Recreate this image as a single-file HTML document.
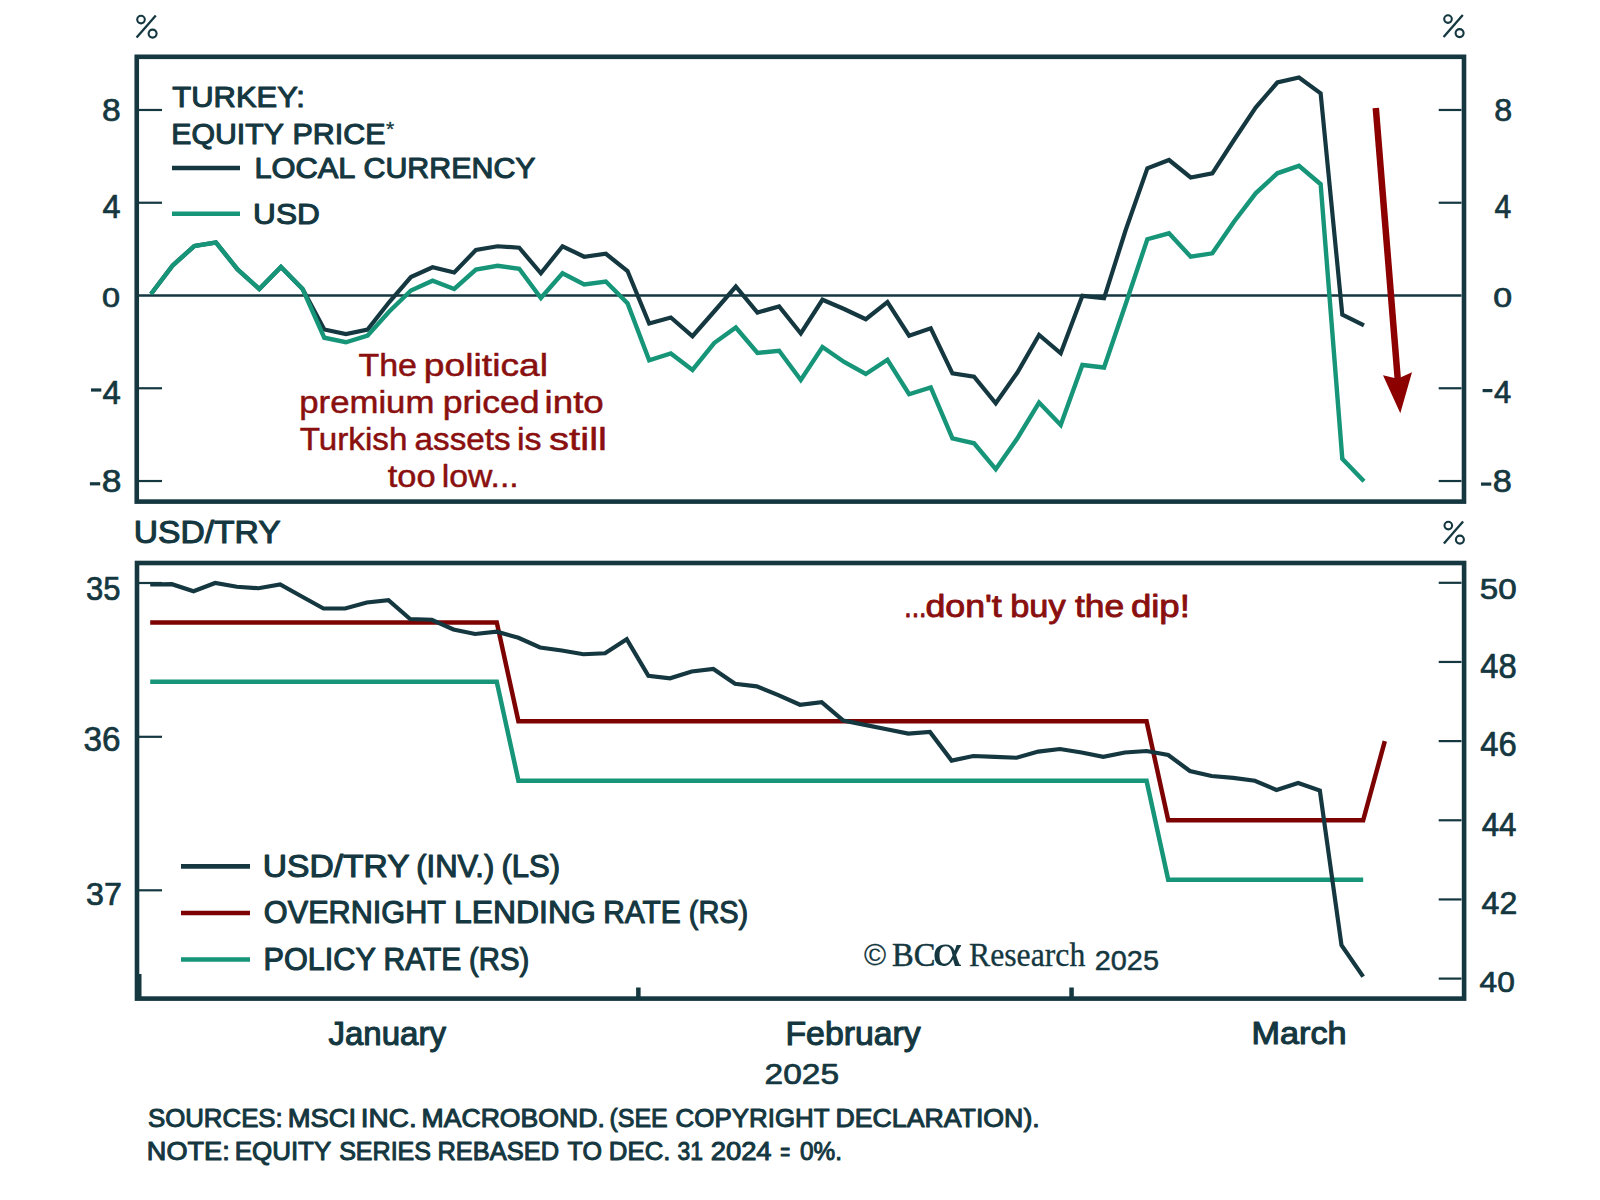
<!DOCTYPE html>
<html><head><meta charset="utf-8"><style>
html,body{margin:0;padding:0;background:#ffffff;width:1600px;height:1200px;overflow:hidden}
svg{display:block}

</style></head><body>
<svg width="1600" height="1200" viewBox="0 0 1600 1200">
<rect x="136.75" y="56.8" width="1327.25" height="444.8" fill="none" stroke="#143740" stroke-width="4.6"/>
<line x1="139" y1="109.98" x2="162" y2="109.98" stroke="#143740" stroke-width="2.2"/>
<line x1="1438.7" y1="109.98" x2="1461.5" y2="109.98" stroke="#143740" stroke-width="2.2"/>
<line x1="139" y1="202.74" x2="162" y2="202.74" stroke="#143740" stroke-width="2.2"/>
<line x1="1438.7" y1="202.74" x2="1461.5" y2="202.74" stroke="#143740" stroke-width="2.2"/>
<line x1="139" y1="388.26" x2="162" y2="388.26" stroke="#143740" stroke-width="2.2"/>
<line x1="1438.7" y1="388.26" x2="1461.5" y2="388.26" stroke="#143740" stroke-width="2.2"/>
<line x1="139" y1="481.02" x2="162" y2="481.02" stroke="#143740" stroke-width="2.2"/>
<line x1="1438.7" y1="481.02" x2="1461.5" y2="481.02" stroke="#143740" stroke-width="2.2"/>
<line x1="139" y1="295.5" x2="1461.5" y2="295.5" stroke="#143740" stroke-width="2.6"/>
<polyline points="151.00,294.00 172.66,265.50 194.32,246.00 215.98,242.50 237.64,269.50 259.30,289.00 280.96,267.00 302.62,289.00 324.28,329.50 345.94,334.00 367.60,329.50 389.26,302.00 410.92,277.00 432.58,267.25 454.24,272.50 475.90,250.00 497.56,246.25 519.22,247.75 540.88,273.25 562.54,246.25 584.20,256.75 605.86,253.75 627.52,271.00 649.18,323.50 670.84,317.50 692.50,336.25 714.16,311.50 735.82,286.50 757.48,312.50 779.14,306.50 800.80,333.50 822.46,299.75 844.12,309.00 865.78,319.25 887.44,302.00 909.10,335.75 930.76,328.25 952.42,373.30 974.08,376.70 995.74,403.30 1017.40,372.50 1039.06,335.00 1060.72,353.30 1082.38,295.80 1104.04,298.30 1125.70,230.00 1147.36,168.30 1169.02,160.00 1190.68,177.50 1212.34,173.30 1234.00,140.00 1255.66,107.50 1277.32,82.50 1298.98,77.50 1320.64,93.30 1342.30,314.70 1363.96,325.30" fill="none" stroke="#143740" stroke-width="4.2" stroke-linejoin="miter" stroke-miterlimit="3"/>
<polyline points="151.00,294.00 172.66,265.50 194.32,246.00 215.98,242.50 237.64,269.50 259.30,289.00 280.96,267.00 302.62,289.00 324.28,337.75 345.94,342.25 367.60,335.50 389.26,311.50 410.92,290.50 432.58,280.75 454.24,289.00 475.90,269.50 497.56,265.75 519.22,268.75 540.88,298.00 562.54,273.25 584.20,284.50 605.86,281.50 627.52,303.25 649.18,360.25 670.84,353.50 692.50,370.00 714.16,343.00 735.82,327.50 757.48,353.00 779.14,350.75 800.80,380.00 822.46,347.00 844.12,362.00 865.78,374.00 887.44,359.75 909.10,394.25 930.76,387.50 952.42,438.30 974.08,443.30 995.74,469.20 1017.40,438.30 1039.06,402.50 1060.72,425.00 1082.38,365.00 1104.04,367.50 1125.70,304.00 1147.36,239.20 1169.02,233.30 1190.68,256.70 1212.34,253.30 1234.00,221.70 1255.66,193.30 1277.32,173.30 1298.98,165.80 1320.64,184.20 1342.30,458.70 1363.96,481.30" fill="none" stroke="#169579" stroke-width="4.4" stroke-linejoin="miter" stroke-miterlimit="3"/>
<line x1="1375.8" y1="108" x2="1397.9" y2="381" stroke="#8c0000" stroke-width="6.5"/>
<path d="M1383,375.3 L1397.7,378.7 L1412,372.3 L1400.3,413.3 Z" fill="#8c0000"/>
<rect x="137" y="563" width="1327.1" height="435.6" fill="none" stroke="#143740" stroke-width="4.6"/>
<line x1="139" y1="583.00" x2="162" y2="583.00" stroke="#143740" stroke-width="2.2"/>
<line x1="139" y1="736.80" x2="162" y2="736.80" stroke="#143740" stroke-width="2.2"/>
<line x1="139" y1="890.30" x2="162" y2="890.30" stroke="#143740" stroke-width="2.2"/>
<line x1="1438.7" y1="582.80" x2="1461.5" y2="582.80" stroke="#143740" stroke-width="2.2"/>
<line x1="1438.7" y1="661.96" x2="1461.5" y2="661.96" stroke="#143740" stroke-width="2.2"/>
<line x1="1438.7" y1="741.12" x2="1461.5" y2="741.12" stroke="#143740" stroke-width="2.2"/>
<line x1="1438.7" y1="820.28" x2="1461.5" y2="820.28" stroke="#143740" stroke-width="2.2"/>
<line x1="1438.7" y1="899.44" x2="1461.5" y2="899.44" stroke="#143740" stroke-width="2.2"/>
<line x1="1438.7" y1="978.60" x2="1461.5" y2="978.60" stroke="#143740" stroke-width="2.2"/>
<rect x="137" y="974" width="4.5" height="23" fill="#143740"/>
<rect x="636.1" y="987.5" width="4.5" height="10" fill="#143740"/>
<rect x="1069.3" y="987.5" width="4.5" height="10" fill="#143740"/>
<polyline points="150.20,622.38 171.86,622.38 193.52,622.38 215.18,622.38 236.84,622.38 258.50,622.38 280.16,622.38 301.82,622.38 323.48,622.38 345.14,622.38 366.80,622.38 388.46,622.38 410.12,622.38 431.78,622.38 453.44,622.38 475.10,622.38 496.76,622.38 518.42,721.33 540.08,721.33 561.74,721.33 583.40,721.33 605.06,721.33 626.72,721.33 648.38,721.33 670.04,721.33 691.70,721.33 713.36,721.33 735.02,721.33 756.68,721.33 778.34,721.33 800.00,721.33 821.66,721.33 843.32,721.33 864.98,721.33 886.64,721.33 908.30,721.33 929.96,721.33 951.62,721.33 973.28,721.33 994.94,721.33 1016.60,721.33 1038.26,721.33 1059.92,721.33 1081.58,721.33 1103.24,721.33 1124.90,721.33 1146.56,721.33 1168.22,820.28 1189.88,820.28 1211.54,820.28 1233.20,820.28 1254.86,820.28 1276.52,820.28 1298.18,820.28 1319.84,820.28 1341.50,820.28 1363.16,820.28 1384.82,741.12" fill="none" stroke="#7d0303" stroke-width="4.5" stroke-linejoin="miter" stroke-miterlimit="3"/>
<polyline points="150.20,681.75 171.86,681.75 193.52,681.75 215.18,681.75 236.84,681.75 258.50,681.75 280.16,681.75 301.82,681.75 323.48,681.75 345.14,681.75 366.80,681.75 388.46,681.75 410.12,681.75 431.78,681.75 453.44,681.75 475.10,681.75 496.76,681.75 518.42,780.70 540.08,780.70 561.74,780.70 583.40,780.70 605.06,780.70 626.72,780.70 648.38,780.70 670.04,780.70 691.70,780.70 713.36,780.70 735.02,780.70 756.68,780.70 778.34,780.70 800.00,780.70 821.66,780.70 843.32,780.70 864.98,780.70 886.64,780.70 908.30,780.70 929.96,780.70 951.62,780.70 973.28,780.70 994.94,780.70 1016.60,780.70 1038.26,780.70 1059.92,780.70 1081.58,780.70 1103.24,780.70 1124.90,780.70 1146.56,780.70 1168.22,879.65 1189.88,879.65 1211.54,879.65 1233.20,879.65 1254.86,879.65 1276.52,879.65 1298.18,879.65 1319.84,879.65 1341.50,879.65 1363.16,879.65" fill="none" stroke="#169579" stroke-width="4.5" stroke-linejoin="miter" stroke-miterlimit="3"/>
<polyline points="150.20,584.50 171.86,584.20 193.52,591.25 215.18,583.00 236.84,586.75 258.50,588.25 280.16,584.50 301.82,596.50 323.48,608.50 345.14,608.50 366.80,602.50 388.46,600.25 410.12,619.00 431.78,619.75 453.44,629.50 475.10,634.00 496.76,631.75 518.42,637.75 540.08,647.50 561.74,650.50 583.40,654.25 605.06,653.30 626.72,639.20 648.38,675.80 670.04,678.30 691.70,671.50 713.36,668.90 735.02,683.75 756.68,686.40 778.34,695.10 800.00,704.75 821.66,702.10 843.32,720.50 864.98,724.90 886.64,729.25 908.30,733.60 929.96,731.90 951.62,760.60 973.28,756.00 994.94,756.90 1016.60,757.75 1038.26,751.60 1059.92,749.00 1081.58,752.50 1103.24,756.90 1124.90,752.50 1146.56,751.00 1168.22,755.00 1189.88,771.00 1211.54,776.00 1233.20,777.90 1254.86,780.70 1276.52,790.00 1298.18,783.00 1319.84,790.50 1341.50,945.20 1363.16,976.60" fill="none" stroke="#143740" stroke-width="4.2" stroke-linejoin="miter" stroke-miterlimit="3"/>
<line x1="172" y1="168" x2="240" y2="168" stroke="#143740" stroke-width="4.6"/>
<line x1="172" y1="213.75" x2="240" y2="213.75" stroke="#169579" stroke-width="4.6"/>
<line x1="181" y1="866.4" x2="250" y2="866.4" stroke="#143740" stroke-width="4.6"/>
<line x1="181" y1="913" x2="250" y2="913" stroke="#7d0303" stroke-width="4.6"/>
<line x1="181" y1="959.5" x2="250" y2="959.5" stroke="#169579" stroke-width="4.6"/>
<g fill="none" stroke="#143740" stroke-width="2.1"><circle cx="141.00" cy="19.60" r="3.8"/><circle cx="152.60" cy="33.60" r="4.0"/><line x1="136.60" y1="37.60" x2="155.80" y2="15.40" stroke-width="2.3"/></g>
<g fill="none" stroke="#143740" stroke-width="2.1"><circle cx="1448.00" cy="19.10" r="3.8"/><circle cx="1459.60" cy="33.10" r="4.0"/><line x1="1443.60" y1="37.10" x2="1462.80" y2="14.90" stroke-width="2.3"/></g>
<text x="102.09" y="120.84" font-family="Liberation Sans" font-weight="normal" font-size="32.20" textLength="18.73" lengthAdjust="spacingAndGlyphs" fill="#143740" stroke="#143740" stroke-width="0.70" stroke-linejoin="round">8</text>
<text x="102.60" y="218.25" font-family="Liberation Sans" font-weight="normal" font-size="33.43" textLength="18.10" lengthAdjust="spacingAndGlyphs" fill="#143740" stroke="#143740" stroke-width="0.70" stroke-linejoin="round">4</text>
<text x="102.08" y="307.08" font-family="Liberation Sans" font-weight="normal" font-size="27.97" textLength="18.03" lengthAdjust="spacingAndGlyphs" fill="#143740" stroke="#143740" stroke-width="0.70" stroke-linejoin="round">0</text>
<rect x="91.00" y="388.40" width="10.30" height="3.20" fill="#143740"/>
<text x="102.49" y="403.85" font-family="Liberation Sans" font-weight="normal" font-size="32.99" textLength="18.32" lengthAdjust="spacingAndGlyphs" fill="#143740" stroke="#143740" stroke-width="0.70" stroke-linejoin="round">4</text>
<rect x="89.90" y="482.20" width="10.30" height="3.20" fill="#143740"/>
<text x="101.71" y="492.45" font-family="Liberation Sans" font-weight="normal" font-size="31.21" textLength="19.67" lengthAdjust="spacingAndGlyphs" fill="#143740" stroke="#143740" stroke-width="0.70" stroke-linejoin="round">8</text>
<text x="1494.15" y="120.64" font-family="Liberation Sans" font-weight="normal" font-size="31.92" textLength="17.90" lengthAdjust="spacingAndGlyphs" fill="#143740" stroke="#143740" stroke-width="0.70" stroke-linejoin="round">8</text>
<text x="1494.56" y="218.25" font-family="Liberation Sans" font-weight="normal" font-size="33.14" textLength="16.78" lengthAdjust="spacingAndGlyphs" fill="#143740" stroke="#143740" stroke-width="0.70" stroke-linejoin="round">4</text>
<text x="1493.33" y="306.69" font-family="Liberation Sans" font-weight="normal" font-size="26.98" textLength="18.85" lengthAdjust="spacingAndGlyphs" fill="#143740" stroke="#143740" stroke-width="0.70" stroke-linejoin="round">0</text>
<rect x="1482.60" y="389.00" width="9.80" height="3.20" fill="#143740"/>
<text x="1494.14" y="402.75" font-family="Liberation Sans" font-weight="normal" font-size="30.52" textLength="17.22" lengthAdjust="spacingAndGlyphs" fill="#143740" stroke="#143740" stroke-width="0.70" stroke-linejoin="round">4</text>
<rect x="1481.00" y="482.50" width="10.30" height="3.20" fill="#143740"/>
<text x="1492.86" y="491.95" font-family="Liberation Sans" font-weight="normal" font-size="30.51" textLength="19.08" lengthAdjust="spacingAndGlyphs" fill="#143740" stroke="#143740" stroke-width="0.70" stroke-linejoin="round">8</text>
<text x="172.36" y="106.95" font-family="Liberation Sans" font-weight="normal" font-size="29.29" textLength="132.37" lengthAdjust="spacingAndGlyphs" fill="#143740" stroke="#143740" stroke-width="1.10" stroke-linejoin="round">TURKEY:</text>
<text x="171.37" y="144.45" font-family="Liberation Sans" font-weight="normal" font-size="29.29" textLength="112.54" lengthAdjust="spacingAndGlyphs" fill="#143740" stroke="#143740" stroke-width="1.10" stroke-linejoin="round">EQUITY</text>
<text x="292.56" y="144.45" font-family="Liberation Sans" font-weight="normal" font-size="29.29" textLength="92.90" lengthAdjust="spacingAndGlyphs" fill="#143740" stroke="#143740" stroke-width="1.10" stroke-linejoin="round">PRICE</text>
<text x="385.91" y="136.06" font-family="Liberation Sans" font-weight="normal" font-size="20.22" textLength="8.27" lengthAdjust="spacingAndGlyphs" fill="#143740" stroke="#143740" stroke-width="0.30" stroke-linejoin="round">*</text>
<text x="254.42" y="178.20" font-family="Liberation Sans" font-weight="normal" font-size="29.29" textLength="101.05" lengthAdjust="spacingAndGlyphs" fill="#143740" stroke="#143740" stroke-width="1.10" stroke-linejoin="round">LOCAL</text>
<text x="363.51" y="178.20" font-family="Liberation Sans" font-weight="normal" font-size="29.29" textLength="172.11" lengthAdjust="spacingAndGlyphs" fill="#143740" stroke="#143740" stroke-width="1.10" stroke-linejoin="round">CURRENCY</text>
<text x="253.12" y="224.45" font-family="Liberation Sans" font-weight="normal" font-size="29.29" textLength="66.59" lengthAdjust="spacingAndGlyphs" fill="#143740" stroke="#143740" stroke-width="1.10" stroke-linejoin="round">USD</text>
<text x="358.49" y="375.85" font-family="Liberation Sans" font-weight="normal" font-size="31.00" textLength="58.52" lengthAdjust="spacingAndGlyphs" fill="#8a0f0f" stroke="#8a0f0f" stroke-width="0.50" stroke-linejoin="round">The</text>
<text x="423.85" y="375.85" font-family="Liberation Sans" font-weight="normal" font-size="31.00" textLength="124.19" lengthAdjust="spacingAndGlyphs" fill="#8a0f0f" stroke="#8a0f0f" stroke-width="0.50" stroke-linejoin="round">political</text>
<text x="299.31" y="413.05" font-family="Liberation Sans" font-weight="normal" font-size="31.00" textLength="135.03" lengthAdjust="spacingAndGlyphs" fill="#8a0f0f" stroke="#8a0f0f" stroke-width="0.50" stroke-linejoin="round">premium</text>
<text x="442.66" y="413.05" font-family="Liberation Sans" font-weight="normal" font-size="31.00" textLength="96.89" lengthAdjust="spacingAndGlyphs" fill="#8a0f0f" stroke="#8a0f0f" stroke-width="0.50" stroke-linejoin="round">priced</text>
<text x="544.59" y="413.05" font-family="Liberation Sans" font-weight="normal" font-size="31.00" textLength="59.20" lengthAdjust="spacingAndGlyphs" fill="#8a0f0f" stroke="#8a0f0f" stroke-width="0.50" stroke-linejoin="round">into</text>
<text x="299.81" y="450.25" font-family="Liberation Sans" font-weight="normal" font-size="31.00" textLength="107.57" lengthAdjust="spacingAndGlyphs" fill="#8a0f0f" stroke="#8a0f0f" stroke-width="0.50" stroke-linejoin="round">Turkish</text>
<text x="414.64" y="450.25" font-family="Liberation Sans" font-weight="normal" font-size="31.00" textLength="96.01" lengthAdjust="spacingAndGlyphs" fill="#8a0f0f" stroke="#8a0f0f" stroke-width="0.50" stroke-linejoin="round">assets</text>
<text x="516.97" y="450.25" font-family="Liberation Sans" font-weight="normal" font-size="31.00" textLength="24.61" lengthAdjust="spacingAndGlyphs" fill="#8a0f0f" stroke="#8a0f0f" stroke-width="0.50" stroke-linejoin="round">is</text>
<text x="549.03" y="450.25" font-family="Liberation Sans" font-weight="normal" font-size="31.00" textLength="58.00" lengthAdjust="spacingAndGlyphs" fill="#8a0f0f" stroke="#8a0f0f" stroke-width="0.50" stroke-linejoin="round">still</text>
<text x="387.73" y="487.45" font-family="Liberation Sans" font-weight="normal" font-size="31.00" textLength="47.87" lengthAdjust="spacingAndGlyphs" fill="#8a0f0f" stroke="#8a0f0f" stroke-width="0.50" stroke-linejoin="round">too</text>
<text x="441.73" y="487.45" font-family="Liberation Sans" font-weight="normal" font-size="31.00" textLength="76.93" lengthAdjust="spacingAndGlyphs" fill="#8a0f0f" stroke="#8a0f0f" stroke-width="0.50" stroke-linejoin="round">low...</text>
<text x="133.77" y="543.35" font-family="Liberation Sans" font-weight="normal" font-size="31.69" textLength="146.92" lengthAdjust="spacingAndGlyphs" fill="#143740" stroke="#143740" stroke-width="1.10" stroke-linejoin="round">USD/TRY</text>
<g fill="none" stroke="#143740" stroke-width="2.1"><circle cx="1448.30" cy="525.60" r="3.8"/><circle cx="1459.90" cy="539.60" r="4.0"/><line x1="1443.90" y1="543.60" x2="1463.10" y2="521.40" stroke-width="2.3"/></g>
<text x="85.97" y="599.62" font-family="Liberation Sans" font-weight="normal" font-size="33.62" textLength="34.48" lengthAdjust="spacingAndGlyphs" fill="#143740" stroke="#143740" stroke-width="0.70" stroke-linejoin="round">35</text>
<text x="83.58" y="751.31" font-family="Liberation Sans" font-weight="normal" font-size="35.31" textLength="37.03" lengthAdjust="spacingAndGlyphs" fill="#143740" stroke="#143740" stroke-width="0.70" stroke-linejoin="round">36</text>
<text x="86.12" y="905.35" font-family="Liberation Sans" font-weight="normal" font-size="31.07" textLength="35.85" lengthAdjust="spacingAndGlyphs" fill="#143740" stroke="#143740" stroke-width="0.70" stroke-linejoin="round">37</text>
<text x="1479.72" y="598.55" font-family="Liberation Sans" font-weight="normal" font-size="30.37" textLength="36.93" lengthAdjust="spacingAndGlyphs" fill="#143740" stroke="#143740" stroke-width="0.70" stroke-linejoin="round">50</text>
<text x="1480.30" y="677.81" font-family="Liberation Sans" font-weight="normal" font-size="35.31" textLength="36.48" lengthAdjust="spacingAndGlyphs" fill="#143740" stroke="#143740" stroke-width="0.70" stroke-linejoin="round">48</text>
<text x="1480.30" y="756.01" font-family="Liberation Sans" font-weight="normal" font-size="35.31" textLength="36.49" lengthAdjust="spacingAndGlyphs" fill="#143740" stroke="#143740" stroke-width="0.70" stroke-linejoin="round">46</text>
<text x="1481.63" y="835.65" font-family="Liberation Sans" font-weight="normal" font-size="32.41" textLength="34.94" lengthAdjust="spacingAndGlyphs" fill="#143740" stroke="#143740" stroke-width="0.70" stroke-linejoin="round">44</text>
<text x="1481.61" y="914.05" font-family="Liberation Sans" font-weight="normal" font-size="31.08" textLength="35.65" lengthAdjust="spacingAndGlyphs" fill="#143740" stroke="#143740" stroke-width="0.70" stroke-linejoin="round">42</text>
<text x="1479.62" y="992.36" font-family="Liberation Sans" font-weight="normal" font-size="30.08" textLength="35.27" lengthAdjust="spacingAndGlyphs" fill="#143740" stroke="#143740" stroke-width="0.70" stroke-linejoin="round">40</text>
<text x="904.21" y="616.55" font-family="Liberation Sans" font-weight="normal" font-size="31.74" textLength="22.28" lengthAdjust="spacingAndGlyphs" fill="#8a0f0f" stroke="#8a0f0f" stroke-width="0.90" stroke-linejoin="round">...</text>
<text x="925.45" y="616.55" font-family="Liberation Sans" font-weight="normal" font-size="31.74" textLength="76.36" lengthAdjust="spacingAndGlyphs" fill="#8a0f0f" stroke="#8a0f0f" stroke-width="0.90" stroke-linejoin="round">don't</text>
<text x="1010.24" y="616.55" font-family="Liberation Sans" font-weight="normal" font-size="31.74" textLength="55.38" lengthAdjust="spacingAndGlyphs" fill="#8a0f0f" stroke="#8a0f0f" stroke-width="0.90" stroke-linejoin="round">buy</text>
<text x="1074.91" y="616.55" font-family="Liberation Sans" font-weight="normal" font-size="31.74" textLength="49.21" lengthAdjust="spacingAndGlyphs" fill="#8a0f0f" stroke="#8a0f0f" stroke-width="0.90" stroke-linejoin="round">the</text>
<text x="1130.91" y="616.55" font-family="Liberation Sans" font-weight="normal" font-size="31.74" textLength="58.96" lengthAdjust="spacingAndGlyphs" fill="#8a0f0f" stroke="#8a0f0f" stroke-width="0.90" stroke-linejoin="round">dip!</text>
<text x="262.72" y="876.75" font-family="Liberation Sans" font-weight="normal" font-size="30.52" textLength="146.87" lengthAdjust="spacingAndGlyphs" fill="#143740" stroke="#143740" stroke-width="1.10" stroke-linejoin="round">USD/TRY</text>
<text x="416.19" y="876.75" font-family="Liberation Sans" font-weight="normal" font-size="30.52" textLength="78.11" lengthAdjust="spacingAndGlyphs" fill="#143740" stroke="#143740" stroke-width="1.10" stroke-linejoin="round">(INV.)</text>
<text x="501.42" y="876.75" font-family="Liberation Sans" font-weight="normal" font-size="30.52" textLength="58.65" lengthAdjust="spacingAndGlyphs" fill="#143740" stroke="#143740" stroke-width="1.10" stroke-linejoin="round">(LS)</text>
<text x="263.85" y="923.45" font-family="Liberation Sans" font-weight="normal" font-size="30.52" textLength="182.21" lengthAdjust="spacingAndGlyphs" fill="#143740" stroke="#143740" stroke-width="1.10" stroke-linejoin="round">OVERNIGHT</text>
<text x="453.93" y="923.45" font-family="Liberation Sans" font-weight="normal" font-size="30.52" textLength="141.90" lengthAdjust="spacingAndGlyphs" fill="#143740" stroke="#143740" stroke-width="1.10" stroke-linejoin="round">LENDING</text>
<text x="603.17" y="923.45" font-family="Liberation Sans" font-weight="normal" font-size="30.52" textLength="77.53" lengthAdjust="spacingAndGlyphs" fill="#143740" stroke="#143740" stroke-width="1.10" stroke-linejoin="round">RATE</text>
<text x="688.75" y="923.45" font-family="Liberation Sans" font-weight="normal" font-size="30.52" textLength="59.49" lengthAdjust="spacingAndGlyphs" fill="#143740" stroke="#143740" stroke-width="1.10" stroke-linejoin="round">(RS)</text>
<text x="263.54" y="969.85" font-family="Liberation Sans" font-weight="normal" font-size="30.52" textLength="112.34" lengthAdjust="spacingAndGlyphs" fill="#143740" stroke="#143740" stroke-width="1.10" stroke-linejoin="round">POLICY</text>
<text x="383.56" y="969.85" font-family="Liberation Sans" font-weight="normal" font-size="30.52" textLength="77.74" lengthAdjust="spacingAndGlyphs" fill="#143740" stroke="#143740" stroke-width="1.10" stroke-linejoin="round">RATE</text>
<text x="468.98" y="969.85" font-family="Liberation Sans" font-weight="normal" font-size="30.52" textLength="60.29" lengthAdjust="spacingAndGlyphs" fill="#143740" stroke="#143740" stroke-width="1.10" stroke-linejoin="round">(RS)</text>
<text x="864.05" y="965.27" font-family="Liberation Sans" font-weight="normal" font-size="28.89" textLength="22.12" lengthAdjust="spacingAndGlyphs" fill="#143740" stroke="#143740" stroke-width="0.20" stroke-linejoin="round">©</text>
<text x="892.11" y="966.25" font-family="Liberation Serif" font-weight="normal" font-size="32.68" textLength="43.43" lengthAdjust="spacingAndGlyphs" fill="#143740" stroke="#143740" stroke-width="0.50" stroke-linejoin="round">BC</text>
<text x="932.21" y="966.06" font-family="Liberation Serif" font-weight="normal" font-size="45.49" textLength="30.08" lengthAdjust="spacingAndGlyphs" fill="#143740">α</text>
<text x="969.04" y="966.35" font-family="Liberation Serif" font-weight="normal" font-size="32.99" textLength="116.23" lengthAdjust="spacingAndGlyphs" fill="#143740" stroke="#143740" stroke-width="0.30" stroke-linejoin="round">Research</text>
<text x="1094.80" y="970.48" font-family="Liberation Sans" font-weight="normal" font-size="27.54" textLength="64.16" lengthAdjust="spacingAndGlyphs" fill="#143740" stroke="#143740" stroke-width="0.50" stroke-linejoin="round">2025</text>
<text x="328.43" y="1045.05" font-family="Liberation Sans" font-weight="normal" font-size="33.29" textLength="117.58" lengthAdjust="spacingAndGlyphs" fill="#143740" stroke="#143740" stroke-width="1.10" stroke-linejoin="round">January</text>
<text x="785.48" y="1045.05" font-family="Liberation Sans" font-weight="normal" font-size="33.29" textLength="135.24" lengthAdjust="spacingAndGlyphs" fill="#143740" stroke="#143740" stroke-width="1.10" stroke-linejoin="round">February</text>
<text x="1251.54" y="1044.15" font-family="Liberation Sans" font-weight="normal" font-size="31.11" textLength="95.03" lengthAdjust="spacingAndGlyphs" fill="#143740" stroke="#143740" stroke-width="1.10" stroke-linejoin="round">March</text>
<text x="764.57" y="1084.36" font-family="Liberation Sans" font-weight="normal" font-size="30.08" textLength="74.49" lengthAdjust="spacingAndGlyphs" fill="#143740" stroke="#143740" stroke-width="0.70" stroke-linejoin="round">2025</text>
<text x="147.93" y="1127.40" font-family="Liberation Sans" font-weight="normal" font-size="25.00" textLength="134.83" lengthAdjust="spacingAndGlyphs" fill="#143740" stroke="#143740" stroke-width="1.00" stroke-linejoin="round">SOURCES:</text>
<text x="287.75" y="1127.40" font-family="Liberation Sans" font-weight="normal" font-size="25.00" textLength="68.47" lengthAdjust="spacingAndGlyphs" fill="#143740" stroke="#143740" stroke-width="1.00" stroke-linejoin="round">MSCI</text>
<text x="360.72" y="1127.40" font-family="Liberation Sans" font-weight="normal" font-size="25.00" textLength="55.93" lengthAdjust="spacingAndGlyphs" fill="#143740" stroke="#143740" stroke-width="1.00" stroke-linejoin="round">INC.</text>
<text x="421.52" y="1127.40" font-family="Liberation Sans" font-weight="normal" font-size="25.00" textLength="183.31" lengthAdjust="spacingAndGlyphs" fill="#143740" stroke="#143740" stroke-width="1.00" stroke-linejoin="round">MACROBOND.</text>
<text x="609.45" y="1127.40" font-family="Liberation Sans" font-weight="normal" font-size="25.00" textLength="58.32" lengthAdjust="spacingAndGlyphs" fill="#143740" stroke="#143740" stroke-width="1.00" stroke-linejoin="round">(SEE</text>
<text x="675.58" y="1127.40" font-family="Liberation Sans" font-weight="normal" font-size="25.00" textLength="154.01" lengthAdjust="spacingAndGlyphs" fill="#143740" stroke="#143740" stroke-width="1.00" stroke-linejoin="round">COPYRIGHT</text>
<text x="835.53" y="1127.40" font-family="Liberation Sans" font-weight="normal" font-size="25.00" textLength="204.18" lengthAdjust="spacingAndGlyphs" fill="#143740" stroke="#143740" stroke-width="1.00" stroke-linejoin="round">DECLARATION).</text>
<text x="146.88" y="1159.70" font-family="Liberation Sans" font-weight="normal" font-size="25.00" textLength="82.80" lengthAdjust="spacingAndGlyphs" fill="#143740" stroke="#143740" stroke-width="1.00" stroke-linejoin="round">NOTE:</text>
<text x="234.67" y="1159.70" font-family="Liberation Sans" font-weight="normal" font-size="25.00" textLength="96.60" lengthAdjust="spacingAndGlyphs" fill="#143740" stroke="#143740" stroke-width="1.00" stroke-linejoin="round">EQUITY</text>
<text x="339.16" y="1159.70" font-family="Liberation Sans" font-weight="normal" font-size="25.00" textLength="91.89" lengthAdjust="spacingAndGlyphs" fill="#143740" stroke="#143740" stroke-width="1.00" stroke-linejoin="round">SERIES</text>
<text x="437.41" y="1159.70" font-family="Liberation Sans" font-weight="normal" font-size="25.00" textLength="121.60" lengthAdjust="spacingAndGlyphs" fill="#143740" stroke="#143740" stroke-width="1.00" stroke-linejoin="round">REBASED</text>
<text x="567.64" y="1159.70" font-family="Liberation Sans" font-weight="normal" font-size="25.00" textLength="34.34" lengthAdjust="spacingAndGlyphs" fill="#143740" stroke="#143740" stroke-width="1.00" stroke-linejoin="round">TO</text>
<text x="608.88" y="1159.70" font-family="Liberation Sans" font-weight="normal" font-size="25.00" textLength="61.67" lengthAdjust="spacingAndGlyphs" fill="#143740" stroke="#143740" stroke-width="1.00" stroke-linejoin="round">DEC.</text>
<text x="677.53" y="1159.70" font-family="Liberation Sans" font-weight="normal" font-size="25.00" textLength="25.49" lengthAdjust="spacingAndGlyphs" fill="#143740" stroke="#143740" stroke-width="1.00" stroke-linejoin="round">31</text>
<text x="710.72" y="1159.70" font-family="Liberation Sans" font-weight="normal" font-size="25.00" textLength="60.88" lengthAdjust="spacingAndGlyphs" fill="#143740" stroke="#143740" stroke-width="1.00" stroke-linejoin="round">2024</text>
<text x="780.18" y="1159.70" font-family="Liberation Sans" font-weight="normal" font-size="25.00" textLength="9.86" lengthAdjust="spacingAndGlyphs" fill="#143740" stroke="#143740" stroke-width="1.00" stroke-linejoin="round">=</text>
<text x="799.95" y="1159.70" font-family="Liberation Sans" font-weight="normal" font-size="25.00" textLength="41.98" lengthAdjust="spacingAndGlyphs" fill="#143740" stroke="#143740" stroke-width="1.00" stroke-linejoin="round">0%.</text>
</svg>
</body></html>
